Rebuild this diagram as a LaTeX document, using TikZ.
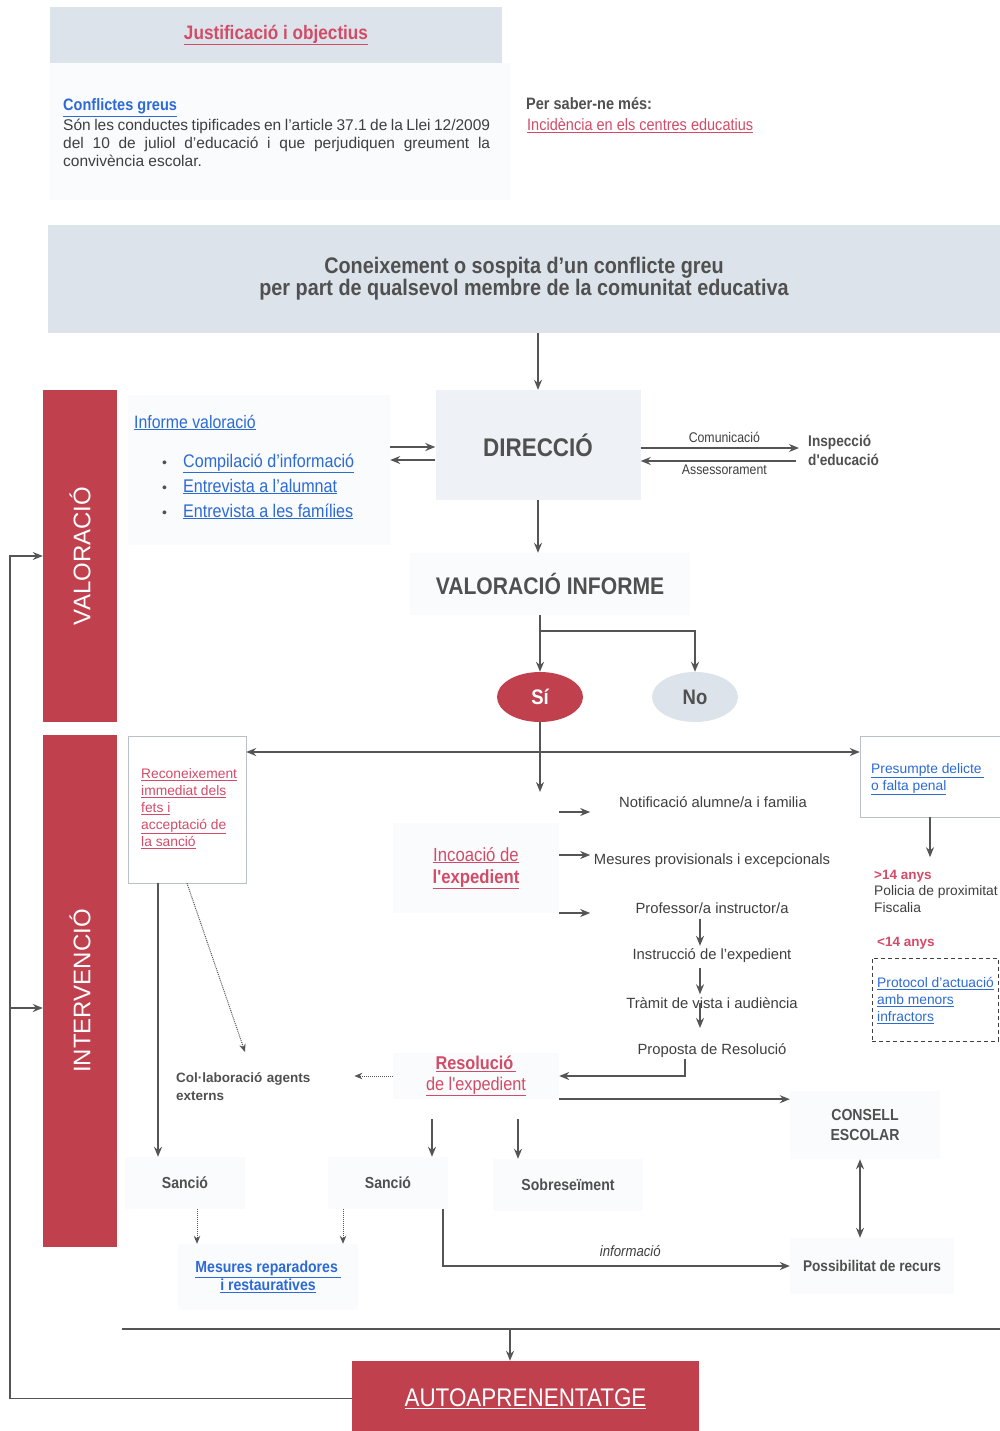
\documentclass[tikz,border=0pt]{standalone}
\usepackage{fontspec}
\setmainfont{Liberation Sans}
\newfontfamily\narrow[FakeStretch=0.88]{Liberation Sans}
\usetikzlibrary{arrows.meta,shapes.geometric}
\definecolor{band}{HTML}{C0404E}
\definecolor{pinktxt}{HTML}{D24C68}
\definecolor{linkblue}{HTML}{2C6AD6}
\definecolor{txtgray}{HTML}{3F3F3F}
\definecolor{headgray}{HTML}{505050}
\definecolor{arrowgray}{HTML}{555555}
\definecolor{bannerfill}{HTML}{DCE3EA}
\definecolor{dirfill}{HTML}{EEF2F6}
\definecolor{faint}{HTML}{FAFBFC}
\definecolor{nofill}{HTML}{DDE3EA}
\definecolor{boxgray}{HTML}{B8C0C8}
\newcommand{\fsz}[2]{\fontsize{#1pt}{#2pt}\selectfont}
\newcommand{\uln}[1]{\underline{#1}}
\tikzset{
  arr/.style={draw=arrowgray, line width=1.5pt, -{Stealth[length=10pt,width=8pt]}},
  barr/.style={draw=arrowgray, line width=1.5pt, {Stealth[length=10pt,width=8pt]}-{Stealth[length=10pt,width=8pt]}},
  plain/.style={draw=arrowgray, line width=1.5pt},
  dotarr/.style={draw=arrowgray, line width=1pt, densely dotted, -{Stealth[length=8pt,width=6.5pt]}},
  txt/.style={inner sep=1pt, text=txtgray},
  fbox/.style={fill=faint, inner sep=0pt},
}
\begin{document}
\begin{tikzpicture}[x=1pt,y=-1pt]
\useasboundingbox (0,0) rectangle (1000,1431);
\fill[white] (0,0) rectangle (1000,1431);

% ---------- top information ----------
\node[fill=bannerfill, minimum width=452, minimum height=56, inner sep=0pt, text=pinktxt,
  font=\narrow\bfseries\fsz{19.5}{22}] (justif) at (276,35) {\uln{Justificació i objectius}};
\node[fbox, minimum width=460, minimum height=137] (infobg) at (280,131.5) {};
\node[anchor=base west, inner sep=0pt, text=linkblue, font=\narrow\bfseries\fsz{16.5}{18}] (cg) at (63,111) {\uln{Conflictes greus}};
\node[anchor=north west, inner sep=0pt, text=txtgray, align=left, font=\fsz{15.5}{18}] (def) at (63,119)
 {\makebox[427pt][s]{Són les conductes tipificades en l'article 37.1 de la Llei 12/2009}\\
  \makebox[427pt][s]{del 10 de juliol d'educació i que perjudiquen greument la}\\
  convivència escolar.};
\node[anchor=base west, inner sep=0pt, text=headgray, font=\narrow\bfseries\fsz{16.5}{18}] (psm) at (526,110) {Per saber-ne més:};
\node[anchor=base west, inner sep=0pt, text=pinktxt, font=\narrow\fsz{16.5}{18}] (inc0) at (527,131) {\uln{Incidència en els centres educatius}};

% ---------- banner ----------
\node[fill=bannerfill, minimum width=952, minimum height=108, inner sep=0pt, align=center, text=headgray,
  font=\narrow\bfseries\fsz{22.5}{22}] (banner) at (524,279)
 {Coneixement o sospita d’un conflicte greu\\per part de qualsevol membre de la comunitat educativa};

% ---------- side bands ----------
\node[fill=band, minimum width=74, minimum height=332, inner sep=0pt] (valband) at (80,556) {};
\node[rotate=90, text=white, font=\fsz{24}{24}] (valtxt) at (valband.center) {VALORACIÓ};
\node[fill=band, minimum width=74, minimum height=512, inner sep=0pt] (intband) at (80,991) {};
\node[rotate=90, text=white, font=\fsz{24}{24}] (inttxt) at (intband.center) {INTERVENCIÓ};

% ---------- valoració area ----------
\node[fbox, minimum width=262, minimum height=150] (infpanel) at (259,470) {};
\node[anchor=base west, inner sep=0pt, text=linkblue, font=\narrow\fsz{18}{20}] (infv) at (134,428) {\uln{Informe valoració}};
\node[anchor=base west, inner sep=0pt, text=headgray, font=\fsz{14}{14}] (b1) at (162,467) {\textbullet};
\node[anchor=base west, inner sep=0pt, text=headgray, font=\fsz{14}{14}] (b2) at (162,492) {\textbullet};
\node[anchor=base west, inner sep=0pt, text=headgray, font=\fsz{14}{14}] (b3) at (162,517) {\textbullet};
\node[anchor=base west, inner sep=0pt, text=linkblue, font=\narrow\fsz{18.3}{20}] (i1) at (183,467) {\uln{Compilació d’informació}};
\node[anchor=base west, inner sep=0pt, text=linkblue, font=\narrow\fsz{18.3}{20}] (i2) at (183,492) {\uln{Entrevista a l’alumnat}};
\node[anchor=base west, inner sep=0pt, text=linkblue, font=\narrow\fsz{18.3}{20}] (i3) at (183,517) {\uln{Entrevista a les famílies}};

\node[fill=dirfill, minimum width=205, minimum height=110, inner sep=0pt, text=headgray,
  font=\narrow\bfseries\fsz{25.5}{25}] (dir) at (538,445) {DIRECCIÓ};
\draw[arr] (banner.south -| dir.north) -- (dir.north);

\draw[arr] (infpanel.east |- 0,447) -- (dir.west |- 0,447);
\draw[arr] (dir.west |- 0,460) -- (infpanel.east |- 0,460);

\node[anchor=west, align=left, inner sep=0pt, text=headgray, font=\narrow\bfseries\fsz{15.5}{19}] (insp) at (808,450) {Inspecció\\d'educació};
\draw[arr, shorten >=9pt] (dir.east |- 0,448) -- (insp.west |- 0,448)
  node[midway, above=5pt, text=txtgray, font=\narrow\fsz{14}{14}, inner sep=0pt] (com) {Comunicació};
\draw[arr, shorten <=12pt] (insp.west |- 0,461) -- (dir.east |- 0,461)
  node[midway, below=3pt, text=txtgray, font=\narrow\fsz{14}{14}, inner sep=0pt] (ass) {Assessorament};

\node[fbox, minimum width=280, minimum height=62, text=headgray, font=\narrow\bfseries\fsz{24}{24}] (valinf) at (550,584) {VALORACIÓ INFORME};
\draw[arr] (dir.south) -- (dir.south |- valinf.north);

\node[ellipse, fill=band, minimum width=86, minimum height=50, inner sep=0pt, text=white,
  font=\narrow\bfseries\fsz{21}{21}] (si) at (540,697) {Sí};
\node[ellipse, fill=nofill, minimum width=86, minimum height=50, inner sep=0pt, text=headgray,
  font=\narrow\bfseries\fsz{21}{21}] (no) at (695,697) {No};
\coordinate (fork) at (540,631);
\draw[arr, line width=2pt] (si.north |- valinf.south) -- (si.north);
\draw[arr, line width=2pt] (fork) -| (no.north);

% ---------- intervenció area ----------
\node[draw=boxgray, fill=white, minimum width=118, minimum height=147, inner sep=0pt] (recon) at (187,809.5) {};
\node[anchor=north west, inner sep=0pt, align=left, text=pinktxt, font=\fsz{13.8}{17}] (recontxt) at (141,768)
 {\uln{Reconeixement}\\\uln{immediat dels}\\\uln{fets i}\\\uln{acceptació de}\\\uln{la sanció}};

\node[draw=boxgray, fill=white, minimum width=140, minimum height=81, inner sep=0pt] (pres) at (930,776.5) {};
\node[anchor=north west, inner sep=0pt, align=left, text=linkblue, font=\fsz{13.8}{17}] (prestxt) at (871,763)
 {\uln{Presumpte delicte\,}\\\uln{o falta penal}};

\coordinate (hj) at (540,752);
\draw[plain] (si.south) -- (hj);
\draw[barr] (recon.east |- hj) -- (pres.west |- hj);
\draw[arr] (hj) -- ++(0,40) coordinate (incTop);

\node[fbox, minimum width=166, minimum height=90, align=center, text=pinktxt, font=\narrow\fsz{19}{22}] (inc) at (476,868)
 {\uln{Incoació de}\\{\bfseries\uln{l'expedient}}};

\node[txt, font=\fsz{14.8}{16}] (notif) at (713,802) {Notificació alumne/a i familia};
\node[txt, font=\fsz{14.8}{16}] (mes) at (712,861) {Mesures provisionals i excepcionals};
\node[txt, font=\fsz{14.8}{16}] (prof) at (712,908) {Professor/a instructor/a};
\node[txt, font=\fsz{14.8}{16}] (instr) at (712,956) {Instrucció de l'expedient};
\node[txt, font=\fsz{14.8}{16}] (tramit) at (712,1003) {Tràmit de vista i audiència};
\node[txt, font=\fsz{14.8}{16}] (prop) at (712,1051) {Proposta de Resolució};

\draw[arr] (inc.east |- 0,812) -- ++(31,0);
\draw[arr] (inc.east |- 0,855) -- ++(31,0);
\draw[arr] (inc.east |- 0,913) -- ++(31,0);

\coordinate (ax) at (700,0);
\draw[arr, shorten <=4pt, shorten >=2pt] (prof.south -| ax) -- (instr.north -| ax);
\draw[arr, shorten <=4pt, shorten >=2pt] (instr.south -| ax) -- (tramit.north -| ax);
\draw[arr] (tramit.center -| ax) -- ++(0,25);

\node[fbox, minimum width=166, minimum height=46, align=center, text=pinktxt, font=\narrow\fsz{18.5}{21}] (resol) at (476,1076)
 {{\bfseries\uln{Resolució\,}}\\\uln{de l'expedient}};
\draw[arr, line width=1.3pt] (prop.south -| 685,0) |- (resol.east);

\node[anchor=west, text width=176, align=left, text=headgray, inner sep=2pt, font=\bfseries\fsz{13.5}{18}] (collab) at (174,1087)
 {Col·laboració agents\\externs};
\draw[dotarr] (resol.west) -- (collab.east |- resol.west);
\coordinate (colTop) at (245,1052);
\draw[dotarr] (recon.south) -- (colTop);

\node[fbox, minimum width=120, minimum height=52, text=headgray, font=\narrow\bfseries\fsz{16}{16}] (s1) at (185,1183) {Sanció};
\node[fbox, minimum width=120, minimum height=52, text=headgray, font=\narrow\bfseries\fsz{16}{16}] (s2) at (388,1183) {Sanció};
\node[fbox, minimum width=150, minimum height=52, text=headgray, font=\narrow\bfseries\fsz{16}{16}] (sob) at (568,1185) {Sobreseïment};

\draw[arr] (recon.south -| 158,0) -- (s1.north -| 158,0);
\draw[arr, shorten <=20pt] (resol.south -| 432,0) -- (s2.north -| 432,0);
\draw[arr, shorten <=20pt] (resol.south -| 518,0) -- (sob.north -| 518,0);

\node[fbox, minimum width=150, minimum height=68, align=center, text=headgray, font=\narrow\bfseries\fsz{16}{20}] (consell) at (865,1125)
 {CONSELL\\ESCOLAR};
\draw[arr] (resol.south east) -- (consell.west |- resol.south east);

\node[fbox, minimum width=164, minimum height=56, text=headgray, font=\narrow\bfseries\fsz{15.5}{16}] (recurs) at (872,1266) {Possibilitat de recurs};
\draw[barr] (consell.south -| 860,0) -- (recurs.north -| 860,0);
\draw[arr] (s2.south -| 443,0) |- (recurs.west)
  node[pos=0.77, above=9pt, inner sep=0pt, text=txtgray, font=\narrow\itshape\fsz{15}{15}] (infm) {informació};

\node[fbox, minimum width=180, minimum height=66, align=center, text=linkblue, font=\narrow\bfseries\fsz{16}{18}] (mrep) at (268,1277)
 {\uln{Mesures reparadores\,}\\\uln{i restauratives}};
\draw[dotarr] (s1.south -| 197,0) -- (mrep.north -| 197,0);
\draw[dotarr] (s2.south -| 343,0) -- (mrep.north -| 343,0);

% right column
\draw[arr] (pres.south) -- ++(0,40);
\node[anchor=west, inner sep=0pt, text=pinktxt, font=\bfseries\fsz{13.5}{16}] (gt) at (874,876) {>14 anys};
\node[anchor=north west, inner sep=0pt, align=left, text=txtgray, font=\fsz{13.8}{17}] (pol) at (874,885) {Policia de proximitat\\Fiscalia};
\node[anchor=west, inner sep=0pt, text=pinktxt, font=\bfseries\fsz{13.5}{16}] (lt) at (877,943) {<14 anys};
\node[draw=txtgray, line width=0.8pt, dash pattern=on 4pt off 3pt, minimum width=126, minimum height=83, inner sep=0pt] (proto) at (935,999.5) {};
\node[anchor=north west, inner sep=0pt, align=left, text=linkblue, font=\fsz{13.8}{17}] (prototxt) at (877,977)
 {\uln{Protocol d'actuació}\\\uln{amb menors}\\\uln{infractors}};

% ---------- bottom ----------
\coordinate (bl) at (122,1329);
\coordinate (br) at (1000,1329);
\draw[plain, line width=1.3pt] (bl) -- (br);
\node[fill=band, minimum width=347, minimum height=75, inner sep=0pt, text=white, font=\narrow\fsz{25.5}{25}] (auto) at (525.5,1398.5) {\uln{AUTOAPRENENTATGE}};
\coordinate (bj) at (510,1329);
\draw[arr] (bj) -- (bj |- auto.north);

% feedback loop
\draw[arr, line width=1.3pt] (auto.west) -| (10,0 |- valband.west) -- (valband.west);
\coordinate (fbi) at (10,1008);
\draw[arr, line width=1.3pt] (fbi) -- (intband.west |- fbi);
\end{tikzpicture}
\end{document}
